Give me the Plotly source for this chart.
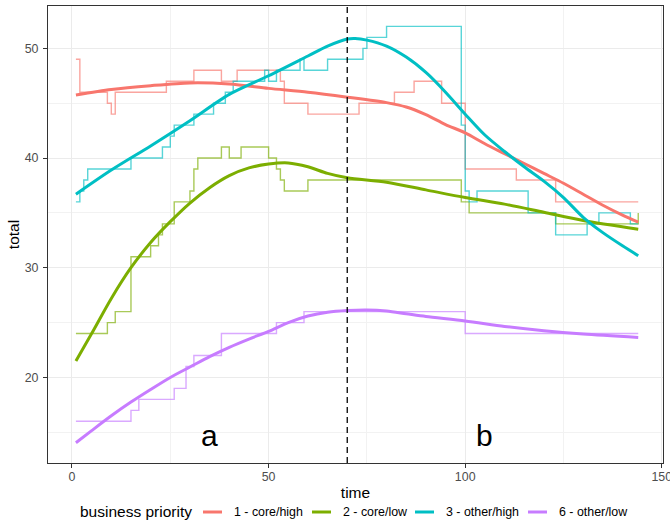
import plotly.graph_objects as go

# ---------------- data ----------------
series_names = ["1 - core/high", "2 - core/low", "3 - other/high", "6 - other/low"]
colors = ["#F8766D", "#7CAE00", "#00BFC4", "#C77CFF"]

# step series (time of change, value) -- drawn as horizontal-then-vertical steps
red_t = [1, 2, 9, 10, 11, 24, 31, 38, 42, 53, 54, 60, 73, 82, 87, 94, 100, 113, 123, 144]
red_v = [49, 46, 45, 44, 46, 47, 48, 47, 48, 47, 45, 44, 45, 46, 47, 45, 39, 38, 36, 36]

green_t = [1, 9, 11, 15, 20, 22, 23, 26, 30, 31, 32, 38, 40, 43, 50, 52, 53, 54, 60, 99, 101, 123, 144]
green_v = [24, 25, 26, 31, 32, 33, 34, 36, 37, 39, 40, 41, 40, 41, 40, 39, 38, 37, 38, 36, 35, 34, 35]

cyan_t = [1, 2, 3, 4, 15, 23, 25, 26, 31, 36, 39, 41, 49, 50, 52, 58, 59, 65, 74, 75, 80, 99, 100, 101, 103, 116, 123, 131, 134, 142, 144]
cyan_v = [36, 37, 38, 39, 40, 41, 42, 43, 44, 45, 46, 47, 48, 47, 48, 49, 48, 49, 50, 51, 52, 43, 37, 36, 37, 35, 33, 34, 35, 34, 34]

purple_t = [1, 15, 17, 26, 29, 31, 38, 52, 59, 100, 144]
purple_v = [16, 17, 18, 19, 21, 22, 24, 25, 26, 24, 24]

# smoothed trends
red_st = [1, 10, 20, 30, 40, 50, 60, 70, 80, 85, 90, 95, 100, 105, 110, 115, 120, 125, 130, 135, 140, 144]
red_sv = [45.75, 46.25, 46.6, 46.85, 46.75, 46.35, 46.0, 45.55, 45.05, 44.65, 43.95, 43.05, 42.3, 41.3, 40.4, 39.5, 38.6, 37.7, 36.7, 35.7, 34.8, 34.15]

green_st = [1, 5, 10, 15, 20, 25, 30, 35, 40, 45, 50, 55, 60, 65, 70, 80, 90, 100, 110, 120, 130, 144]
green_sv = [21.5, 24.0, 27.2, 30.0, 32.3, 34.2, 35.9, 37.3, 38.4, 39.1, 39.45, 39.55, 39.2, 38.6, 38.2, 37.8, 37.1, 36.4, 35.8, 35.05, 34.3, 33.5]

cyan_st = [1, 10, 20, 30, 40, 50, 60, 65, 70, 72, 75, 80, 85, 90, 95, 100, 105, 110, 115, 120, 125, 130, 135, 140, 144]
cyan_sv = [36.7, 38.9, 41.1, 43.4, 45.8, 47.5, 49.3, 50.2, 50.85, 50.9, 50.75, 50.2, 49.2, 47.8, 46.0, 44.0, 42.1, 40.6, 39.2, 37.9, 36.4, 34.6, 33.2, 32.0, 31.1]

purple_st = [1, 5, 10, 15, 20, 25, 30, 35, 40, 45, 50, 55, 60, 65, 70, 75, 80, 85, 90, 100, 110, 120, 130, 144]
purple_sv = [14.05, 15.15, 16.5, 17.75, 18.9, 20.0, 20.95, 21.9, 22.75, 23.5, 24.2, 25.0, 25.6, 25.95, 26.1, 26.15, 26.05, 25.8, 25.55, 25.15, 24.65, 24.25, 23.95, 23.65]

vline_x = 70
labels = [("a", 35, 14.75), ("b", 105, 14.75)]

x_ticks = [0, 50, 100, 150]
y_ticks = [20, 30, 40, 50]

legend_title = "business priority"

steps = [(red_t, red_v), (green_t, green_v), (cyan_t, cyan_v), (purple_t, purple_v)]
smooths = [(red_st, red_sv), (green_st, green_sv), (cyan_st, cyan_sv), (purple_st, purple_sv)]

FONT = "Liberation Sans, Arial, Helvetica, sans-serif"
W, H = 670, 523
ML, MR, MT, MB = 48, 7, 6, 60
PW, PH = W - ML - MR, H - MT - MB


def px_to_paper(px, py):
    return (px - ML) / PW, (H - MB - py) / PH


fig = go.Figure()

for (t, v), c, n in zip(steps, colors, series_names):
    fig.add_trace(go.Scatter(x=t, y=v, mode="lines", line=dict(color=c, width=1.4, shape="hv"),
                             opacity=0.65, legendgroup=n, showlegend=False, hoverinfo="skip"))

for (t, v), c, n in zip(smooths, colors, series_names):
    fig.add_trace(go.Scatter(x=t, y=v, mode="lines", name=n,
                             line=dict(color=c, width=3, shape="spline", smoothing=0.8),
                             legendgroup=n, showlegend=False))

fig.add_vline(x=vline_x, line=dict(color="black", width=1.3, dash="6px,4px"))

for txt, x, y in labels:
    fig.add_annotation(x=x, y=y, text=txt, showarrow=False, font=dict(family=FONT, size=30, color="black"),
                       xanchor="center", yanchor="middle")

# ---- legend (bottom, horizontal, ggplot style) ----
leg_y = 512
tx, ty = px_to_paper(78, leg_y)
fig.add_annotation(xref="paper", yref="paper", x=tx, y=ty, text=legend_title, showarrow=False,
                   xanchor="left", yanchor="middle", font=dict(family=FONT, size=15.5, color="black"))
key_x = [203, 312, 415, 528]
for kx, c, n in zip(key_x, colors, series_names):
    x0, y0 = px_to_paper(kx, leg_y)
    x1, _ = px_to_paper(kx + 19, leg_y)
    fig.add_shape(type="line", xref="paper", yref="paper", x0=x0, x1=x1, y0=y0, y1=y0,
                  line=dict(color=c, width=3))
    lx, _ = px_to_paper(kx + 29, leg_y)
    fig.add_annotation(xref="paper", yref="paper", x=lx, y=y0, text=n, showarrow=False,
                       xanchor="left", yanchor="middle", font=dict(family=FONT, size=12.4, color="black"))

axis_common = dict(showgrid=True, gridcolor="#EBEBEB", gridwidth=1.1, zeroline=False,
                   showline=True, mirror=True, linecolor="#333333", linewidth=1,
                   ticks="outside", ticklen=4, tickcolor="#333333", tickwidth=1, automargin=False,
                   ticklabeloverflow="allow",
                   tickfont=dict(family=FONT, size=12.4, color="#4D4D4D"))

fig.update_layout(
    width=W, height=H,
    margin=dict(l=ML, r=MR, t=MT, b=MB, autoexpand=False),
    paper_bgcolor="white", plot_bgcolor="white",
    font=dict(family=FONT, color="black"),
    xaxis=dict(range=[-6.1, 150.3], tickvals=x_ticks, ticklabelstandoff=-2,
               minor=dict(dtick=25, tick0=0, showgrid=True, gridcolor="#F2F2F2", gridwidth=0.6, ticks=""),
               title=dict(text="time", font=dict(family=FONT, size=15.5, color="black"), standoff=4),
               **axis_common),
    yaxis=dict(range=[12.2, 53.86], tickvals=y_ticks, ticklabelstandoff=2,
               minor=dict(dtick=5, tick0=0, showgrid=True, gridcolor="#F2F2F2", gridwidth=0.6, ticks=""),
               title=dict(text="total", font=dict(family=FONT, size=15.5, color="black"), standoff=1),
               **axis_common),
    showlegend=False,
)

fig.write_html("out.html", config={"displayModeBar": False},
               post_script="document.body.style.margin='0';")
